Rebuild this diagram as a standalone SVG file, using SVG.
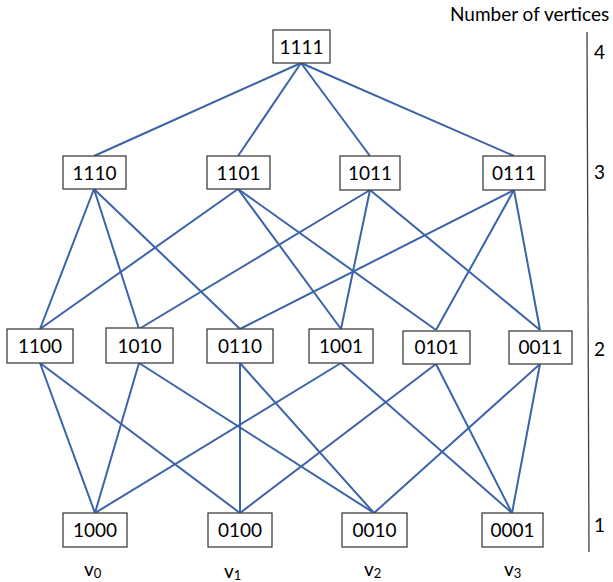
<svg xmlns="http://www.w3.org/2000/svg" width="613" height="582" viewBox="0 0 613 582">
  <style>
    .box rect { fill: #ffffff; stroke: #404040; stroke-width: 1.3; }
    .box text, .lbl { font-family: Lato, "Open Sans", sans-serif; font-size: 19px; fill: #000000; }
    .box text { text-anchor: middle; }
    .edges line { stroke: #3b63a8; stroke-width: 2; }
    .axis { stroke: #404040; stroke-width: 1.3; }
    .sub { font-size: 13px; }
  </style>

  <!-- Hasse diagram edges -->
  <g id="edges" class="edges">
    <!-- level 4 to level 3 -->
    <line x1="301" y1="63" x2="94" y2="156"/>
    <line x1="301" y1="63" x2="238" y2="156"/>
    <line x1="301" y1="63" x2="370" y2="156"/>
    <line x1="301" y1="63" x2="514" y2="156"/>
    <!-- level 3 to level 2 -->
    <line x1="94" y1="189" x2="40" y2="329"/>
    <line x1="94" y1="189" x2="139" y2="329"/>
    <line x1="94" y1="189" x2="240" y2="329"/>
    <line x1="238" y1="189" x2="40" y2="329"/>
    <line x1="238" y1="189" x2="341" y2="329"/>
    <line x1="238" y1="189" x2="436" y2="330"/>
    <line x1="370" y1="190" x2="139" y2="329"/>
    <line x1="370" y1="190" x2="341" y2="329"/>
    <line x1="370" y1="190" x2="540" y2="330"/>
    <line x1="514" y1="190" x2="240" y2="329"/>
    <line x1="514" y1="190" x2="436" y2="330"/>
    <line x1="514" y1="190" x2="540" y2="330"/>
    <!-- level 2 to level 1 -->
    <line x1="40" y1="363" x2="95" y2="513"/>
    <line x1="40" y1="363" x2="240" y2="513"/>
    <line x1="139" y1="363" x2="95" y2="513"/>
    <line x1="139" y1="363" x2="374" y2="513"/>
    <line x1="240" y1="363" x2="240" y2="513"/>
    <line x1="240" y1="363" x2="374" y2="513"/>
    <line x1="341" y1="363" x2="95" y2="513"/>
    <line x1="341" y1="363" x2="512" y2="513"/>
    <line x1="436" y1="364" x2="240" y2="513"/>
    <line x1="436" y1="364" x2="512" y2="513"/>
    <line x1="540" y1="364" x2="374" y2="513"/>
    <line x1="540" y1="364" x2="512" y2="513"/>
  </g>

  <!-- level 4 -->
  <g id="n1111" class="box"><rect x="273" y="30" width="57" height="33"/><text x="301.5" y="53.5">1111</text></g>

  <!-- level 3 -->
  <g id="n1110" class="box"><rect x="63" y="156" width="63" height="33"/><text x="94.5" y="179.5">1110</text></g>
  <g id="n1101" class="box"><rect x="207" y="156" width="63" height="33"/><text x="238.5" y="179.5">1101</text></g>
  <g id="n1011" class="box"><rect x="340" y="156" width="60" height="34"/><text x="370" y="180">1011</text></g>
  <g id="n0111" class="box"><rect x="483" y="156" width="62" height="34"/><text x="514" y="180">0111</text></g>

  <!-- level 2 -->
  <g id="n1100" class="box"><rect x="7" y="329" width="66" height="34"/><text x="40" y="353">1100</text></g>
  <g id="n1010" class="box"><rect x="106" y="328" width="67" height="35"/><text x="139.5" y="352.5">1010</text></g>
  <g id="n0110" class="box"><rect x="207" y="329" width="66" height="34"/><text x="240" y="353">0110</text></g>
  <g id="n1001" class="box"><rect x="309" y="329" width="64" height="34"/><text x="341" y="353">1001</text></g>
  <g id="n0101" class="box"><rect x="403" y="331" width="67" height="33"/><text x="436.5" y="354">0101</text></g>
  <g id="n0011" class="box"><rect x="509" y="331" width="63" height="33"/><text x="540.5" y="354">0011</text></g>

  <!-- level 1 -->
  <g id="n1000" class="box"><rect x="63" y="513" width="64" height="34"/><text x="95" y="537">1000</text></g>
  <g id="n0100" class="box"><rect x="208" y="513" width="64" height="34"/><text x="240" y="537">0100</text></g>
  <g id="n0010" class="box"><rect x="342" y="513" width="65" height="34"/><text x="374.5" y="537">0010</text></g>
  <g id="n0001" class="box"><rect x="482" y="513" width="61" height="34"/><text x="512.5" y="537">0001</text></g>

  <!-- vertex names -->
  <g id="vertex-labels">
    <text class="lbl" x="84" y="576">v<tspan class="sub" dy="2">0</tspan></text>
    <text class="lbl" x="224" y="578">v<tspan class="sub" dy="2">1</tspan></text>
    <text class="lbl" x="364" y="576">v<tspan class="sub" dy="2">2</tspan></text>
    <text class="lbl" x="504" y="576">v<tspan class="sub" dy="2">3</tspan></text>
  </g>

  <!-- vertex-count scale -->
  <g id="scale">
    <text class="lbl" x="450" y="21">Number of vertices</text>
    <line class="axis" x1="587" y1="32" x2="589" y2="552"/>
    <text class="lbl" x="594" y="59">4</text>
    <text class="lbl" x="594" y="179">3</text>
    <text class="lbl" x="594" y="356">2</text>
    <text class="lbl" x="594" y="532">1</text>
  </g>
</svg>
